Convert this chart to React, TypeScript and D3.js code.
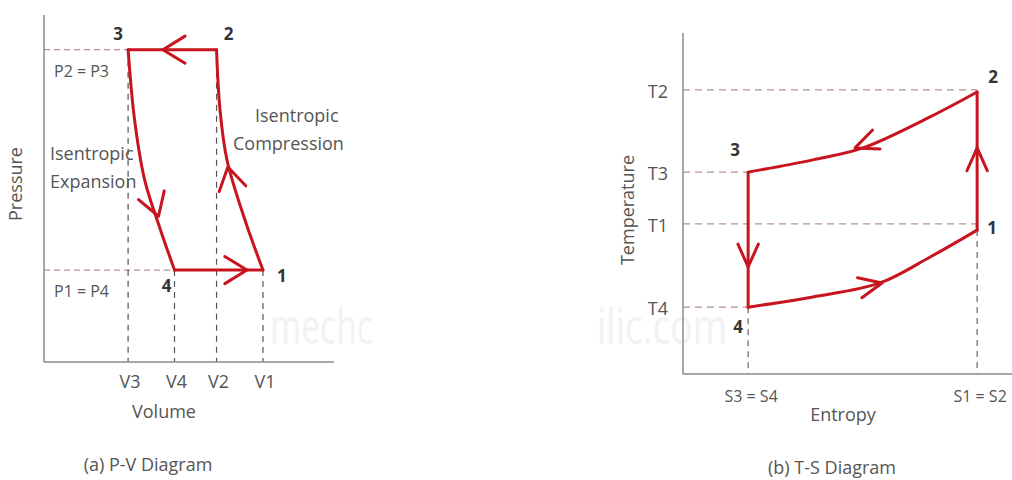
import * as d3 from 'd3';
import React from 'react';

/* Otto / Brayton style cycle: P-V and T-S diagrams side by side.
 * Values are in arbitrary units.
 */

// ---- P-V diagram ----
const volumeTicks = [
  { label: 'V3', value: 2.9 },
  { label: 'V4', value: 4.5 },
  { label: 'V2', value: 5.95 },
  { label: 'V1', value: 7.55 },
];
const pressureLevels = [
  { label: 'P2 = P3', value: 9.0 },
  { label: 'P1 = P4', value: 2.65 },
];
const pvStates = [
  { id: '1', v: 7.55, p: 2.65 },
  { id: '2', v: 5.95, p: 9.0 },
  { id: '3', v: 2.9, p: 9.0 },
  { id: '4', v: 4.5, p: 2.65 },
];
// 3 -> 4 isentropic expansion
const pvExpansion: [number, number][] = [[2.9, 9.0], [3.12, 7.0], [3.47, 5.25], [4.0, 3.85], [4.5, 2.65]];
// 1 -> 2 isentropic compression
const pvCompression: [number, number][] = [[7.55, 2.65], [6.93, 4.09], [6.31, 5.82], [6.07, 7.26], [5.95, 9.0]];
// arrow heads: tail point -> tip point (data units)
const pvArrows: { from: [number, number]; to: [number, number] }[] = [
  { from: [5.0, 9.0], to: [4.1, 9.0] },
  { from: [6.0, 2.65], to: [7.0, 2.65] },
  { from: [3.5, 5.3], to: [3.95, 4.2] },
  { from: [6.6, 4.6], to: [6.34, 5.62] },
];

// ---- T-S diagram ----
const entropyTicks = [
  { label: 'S3 = S4', value: 1.98 },
  { label: 'S1 = S2', value: 8.94 },
];
const temperatureTicks = [
  { label: 'T2', value: 8.33 },
  { label: 'T3', value: 5.92 },
  { label: 'T1', value: 4.4 },
  { label: 'T4', value: 1.96 },
];
const tsStates = [
  { id: '1', s: 8.94, t: 4.22 },
  { id: '2', s: 8.94, t: 8.27 },
  { id: '3', s: 1.98, t: 5.92 },
  { id: '4', s: 1.98, t: 1.96 },
];
const tsRejection: [number, number][] = [[8.94, 8.27], [7.51, 7.54], [5.47, 6.63], [3.95, 6.28], [1.98, 5.92]];
const tsAddition: [number, number][] = [[1.98, 1.96], [3.95, 2.26], [5.99, 2.67], [7.51, 3.43], [8.94, 4.22]];
const tsArrows: { from: [number, number]; to: [number, number] }[] = [
  { from: [6.2, 7.0], to: [5.23, 6.63] },
  { from: [5.0, 2.45], to: [6.05, 2.67] },
  { from: [1.98, 4.2], to: [1.98, 3.14] },
  { from: [8.94, 5.5], to: [8.94, 6.63] },
];

const RED = '#c8141e';
const AXIS = '#8a8a96';
const FONT = '"Open Sans", sans-serif';
const TXT = '#555';

const pvX = d3.scaleLinear().domain([0, 10]).range([44, 334]);
const pvY = d3.scaleLinear().domain([0, 10]).range([362, 15]);
const tsX = d3.scaleLinear().domain([0, 10]).range([683, 1012]);
const tsY = d3.scaleLinear().domain([0, 10]).range([374, 33]);

function arrowPath(x0: number, y0: number, x1: number, y1: number, len = 24, spread = 0.5) {
  const a = Math.atan2(y1 - y0, x1 - x0);
  const l = [x1 - len * Math.cos(a - spread), y1 - len * Math.sin(a - spread)];
  const r = [x1 - len * Math.cos(a + spread), y1 - len * Math.sin(a + spread)];
  return `M${l[0]},${l[1]}L${x1},${y1}L${r[0]},${r[1]}`;
}

const pvLabelOffset: Record<string, [number, number]> = { '1': [19, 12], '2': [12, -10], '3': [-10, -10], '4': [-8, 22] };
const tsLabelOffset: Record<string, [number, number]> = { '1': [15, 4], '2': [16, -9], '3': [-13, -16], '4': [-10, 26] };

export default function App() {
  const pvLine = d3.line<[number, number]>().x(d => pvX(d[0])).y(d => pvY(d[1])).curve(d3.curveCatmullRom);
  const tsLine = d3.line<[number, number]>().x(d => tsX(d[0])).y(d => tsY(d[1])).curve(d3.curveCatmullRom);

  const st = (id: string) => pvStates.find(s => s.id === id)!;
  const ts = (id: string) => tsStates.find(s => s.id === id)!;

  const text = { fontFamily: FONT, fill: TXT, fontSize: 18 } as React.CSSProperties;
  const num = { fontFamily: FONT, fill: '#333', fontSize: 17, fontWeight: 700 } as React.CSSProperties;
  const mark = { fontFamily: FONT, fontSize: 50, fill: '#f2f2f2' } as React.CSSProperties;

  return (
    <svg width={1012} height={480} style={{ position: 'absolute', left: 0, top: 0, background: '#fff' }}>
      {/* faint watermark */}
      <text x={270} y={344} textLength={103} lengthAdjust="spacingAndGlyphs" style={mark}>mechc</text>
      <text x={597} y={344} textLength={130} lengthAdjust="spacingAndGlyphs" style={mark}>ilic.com</text>

      {/* ===== P-V ===== */}
      <g id="pv">
        {pressureLevels.map(lv => {
          const vMin = d3.min(pvStates.filter(s => s.p === lv.value), s => s.v)!;
          return (
            <g key={lv.label}>
              <line x1={pvX(0)} x2={pvX(vMin)} y1={pvY(lv.value)} y2={pvY(lv.value)}
                stroke="#b88f8f" strokeWidth={1.2} strokeDasharray="6,4" />
              <text x={pvX(0) + 10} y={pvY(lv.value) + 27} style={{ ...text, fontSize: 16 }}>{lv.label}</text>
            </g>
          );
        })}
        {volumeTicks.map(tk => {
          const p = pvStates.find(s => s.v === tk.value)!.p;
          return (
            <g key={tk.label}>
              <line x1={pvX(tk.value)} x2={pvX(tk.value)} y1={pvY(p)} y2={pvY(0)}
                stroke="#555" strokeWidth={1.2} strokeDasharray="6,5" />
              <text x={pvX(tk.value) + 2} y={pvY(0) + 26} textAnchor="middle" style={text}>{tk.label}</text>
            </g>
          );
        })}
        <line x1={pvX(0)} x2={pvX(0)} y1={pvY(10)} y2={pvY(0)} stroke={AXIS} strokeWidth={1.5} />
        <line x1={pvX(0)} x2={pvX(10)} y1={pvY(0)} y2={pvY(0)} stroke={AXIS} strokeWidth={1.5} />

        <text x={255} y={122} style={text}>Isentropic</text>
        <text x={233} y={150} style={text}>Compression</text>
        <text x={50} y={160} style={text}>Isentropic</text>
        <text x={50} y={188} style={text}>Expansion</text>

        <g fill="none" stroke={RED} strokeWidth={3} strokeLinejoin="round" strokeLinecap="round">
          <line x1={pvX(st('2').v)} x2={pvX(st('3').v)} y1={pvY(st('2').p)} y2={pvY(st('3').p)} />
          <line x1={pvX(st('4').v)} x2={pvX(st('1').v)} y1={pvY(st('4').p)} y2={pvY(st('1').p)} />
          <path d={pvLine(pvExpansion)!} />
          <path d={pvLine(pvCompression)!} />
          {pvArrows.map((a, i) => (
            <path key={i} d={arrowPath(pvX(a.from[0]), pvY(a.from[1]), pvX(a.to[0]), pvY(a.to[1]), 26, 0.55)} />
          ))}
        </g>
        {pvStates.map(s => (
          <text key={s.id} x={pvX(s.v) + pvLabelOffset[s.id][0]} y={pvY(s.p) + pvLabelOffset[s.id][1]}
            textAnchor="middle" style={num}>{s.id}</text>
        ))}
        <text transform={`translate(22,184) rotate(-90)`} textAnchor="middle" style={text}>Pressure</text>
        <text x={164} y={418} textAnchor="middle" style={text}>Volume</text>
        <text x={148} y={471} textAnchor="middle" style={text}>(a) P-V Diagram</text>
      </g>

      {/* ===== T-S ===== */}
      <g id="ts">
        {temperatureTicks.map(tk => {
          const near = d3.least(tsStates, s => Math.abs(s.t - tk.value))!;
          return (
            <g key={tk.label}>
              <line x1={tsX(0)} x2={tsX(near.s)} y1={tsY(tk.value)} y2={tsY(tk.value)}
                stroke="#b88f8f" strokeWidth={1.2} strokeDasharray="7,5" />
              <text x={tsX(0) - 15} y={tsY(tk.value) + 8} textAnchor="end" style={text}>{tk.label}</text>
            </g>
          );
        })}
        {entropyTicks.map(tk => {
          const tMin = d3.min(tsStates.filter(s => s.s === tk.value), s => s.t)!;
          return (
            <g key={tk.label}>
              <line x1={tsX(tk.value)} x2={tsX(tk.value)} y1={tsY(tMin)} y2={tsY(0)}
                stroke="#666" strokeWidth={1.2} strokeDasharray="6,5" />
              <text x={tsX(tk.value) + 3} y={tsY(0) + 28} textAnchor="middle" style={{ ...text, fontSize: 16 }}>{tk.label}</text>
            </g>
          );
        })}
        <line x1={tsX(0)} x2={tsX(0)} y1={tsY(10)} y2={tsY(0)} stroke={AXIS} strokeWidth={1.5} />
        <line x1={tsX(0)} x2={tsX(10)} y1={tsY(0)} y2={tsY(0)} stroke={AXIS} strokeWidth={1.5} />

        <g fill="none" stroke={RED} strokeWidth={3} strokeLinejoin="round" strokeLinecap="round">
          <line x1={tsX(ts('1').s)} x2={tsX(ts('2').s)} y1={tsY(ts('1').t)} y2={tsY(ts('2').t)} />
          <line x1={tsX(ts('3').s)} x2={tsX(ts('4').s)} y1={tsY(ts('3').t)} y2={tsY(ts('4').t)} />
          <path d={tsLine(tsRejection)!} />
          <path d={tsLine(tsAddition)!} />
          {tsArrows.map((a, i) => (
            <path key={i} d={arrowPath(tsX(a.from[0]), tsY(a.from[1]), tsX(a.to[0]), tsY(a.to[1]), 25, 0.42)} />
          ))}
        </g>
        {tsStates.map(s => (
          <text key={s.id} x={tsX(s.s) + tsLabelOffset[s.id][0]} y={tsY(s.t) + tsLabelOffset[s.id][1]}
            textAnchor="middle" style={num}>{s.id}</text>
        ))}
        <text transform={`translate(634,210) rotate(-90)`} textAnchor="middle" style={text}>Temperature</text>
        <text x={843} y={421} textAnchor="middle" style={text}>Entropy</text>
        <text x={832} y={474} textAnchor="middle" style={text}>(b) T-S Diagram</text>
      </g>
    </svg>
  );
}
